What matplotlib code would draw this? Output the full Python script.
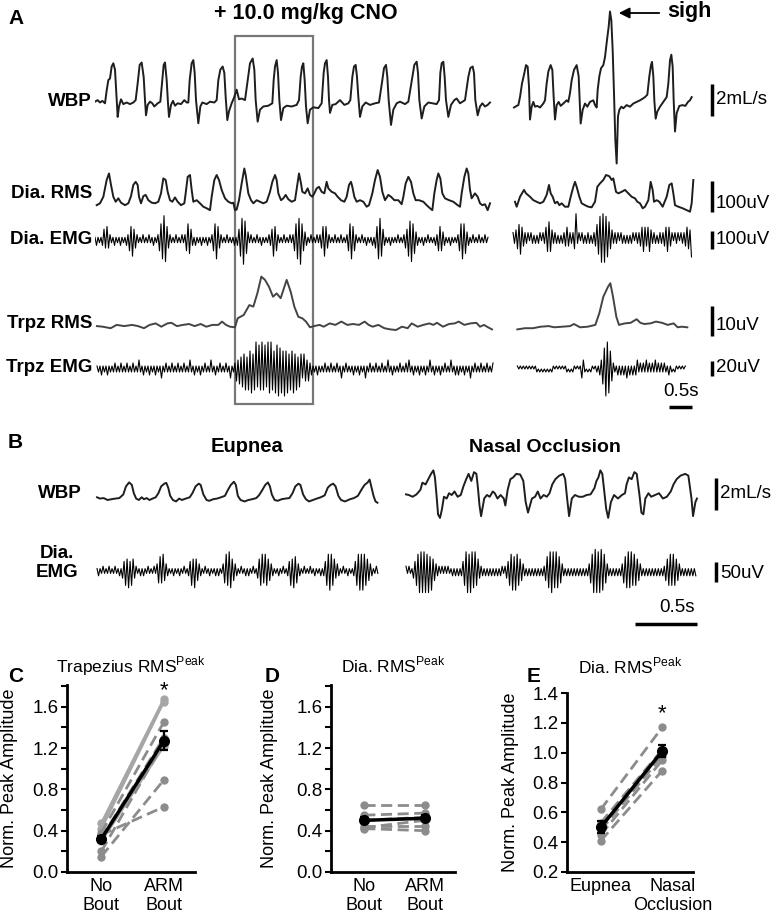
import numpy as np
import matplotlib
matplotlib.use('Agg')
import matplotlib.pyplot as plt
import matplotlib.transforms as mtransforms
from matplotlib.patches import Rectangle

plt.rcParams['font.family'] = ['Liberation Sans', 'DejaVu Sans']
plt.rcParams['mathtext.fontset'] = 'custom'
plt.rcParams['mathtext.rm'] = 'Liberation Sans'

# ------------------------------------------------------------------ DATA
# Panel A traces: (time in samples @ FS_A, value)
FS_A = 138.0
WBP_A_LEFT = [(0,0.1),(8,0.2),(15,0.05),(22,0.15),(30,0),(35,0.8),(40,1.45),(45,1.55),(50,2.3),(55,2.5),(60,2.1),(64,0.6),(68,-0.85),(72,-0.2),(78,0.25),(85,-0.05),(95,0.05),(105,-0.05),(115,0.05),(122,0.2),
(128,1.25),(134,2.4),(140,2.55),(146,1.65),(150,0.2),(153,-0.75),(158,-0.1),(165,0.1),(172,0),(178,-0.2),(188,0),(196,0.1),
(202,1.45),(206,2.4),(210,2.55),(215,1.45),(219,0),(222,-0.85),(228,-0.1),(234,0.15),(240,-0.15),(248,0),(258,-0.05),(268,0.2),(275,0.05),(280,0.05),
(284,1.45),(290,2.5),(295,2.7),(299,1.9),(303,0.2),(310,-1.25),(316,-0.2),(322,0.05),(335,-0.05),(345,0.1),(358,0.05),(365,0.2),
(370,1.45),(376,2.1),(383,2.3),(388,1.9),(392,0.4),(397,-1.05),(402,-0.5),(410,0),(418,0.4),(425,0.85),(432,0.25),(440,0.3),(450,0.2),
(458,1.45),(465,2.5),(473,2.8),(478,2.1),(482,0.2),(488,-1.15),(495,-0.4),(505,-0.2),(520,-0.15),(532,0),
(536,1.45),(540,2.3),(545,2.7),(549,1.9),(553,0.2),(558,-1.05),(565,-0.3),(575,-0.15),(590,-0.2),(605,-0.1),(612,0.2),
(617,1.65),(621,2.3),(625,2.5),(629,1.45),(633,-0.2),(638,-1.25),(645,-0.4),(655,-0.25),(670,-0.3),(680,0),
(686,1.9),(690,2.5),(695,2.7),(699,1.65),(702,0.2),(705,-0.6),(712,-0.1),(722,-0.05),(735,0.2),(748,-0.1),(760,0),(766,0.2),
(772,1.65),(777,2.3),(782,2.4),(786,1.65),(790,0.4),(795,-0.85),(802,-0.2),(812,0.05),(825,-0.1),(840,0),(852,0.05),
(862,1.45),(867,2.2),(873,2.4),(877,1.65),(881,0.2),(888,-1.35),(895,-0.4),(905,0),(915,0.1),(930,-0.05),(940,0.1),
(952,1.65),(958,2.4),(965,2.6),(969,1.9),(973,0.2),(980,-0.95),(988,-0.2),(1000,0.05),(1012,0),(1025,-0.05),(1032,0.2),
(1036,1.9),(1040,2.5),(1045,2.6),(1049,1.65),(1053,0.2),(1060,-0.85),(1068,-0.1),(1078,0.2),(1085,0.3),(1095,0),(1110,0.2),
(1120,1.65),(1126,2.2),(1133,2.3),(1137,1.9),(1141,0.2),(1148,-0.75),(1155,-0.2),(1162,0),(1170,-0.2),(1178,-0.1),(1185,0.05)]

WBP_A_RIGHT = [(42,-0.05),(50,0.05),(55,0.1),(60,0.6),(66,1.45),(72,2.0),(78,2.6),(83,2.5),(87,1.25),(90,-0.8),(95,0),(100,0.3),(105,0),(112,0.05),(120,-0.05),(130,0.2),(135,0.4),
(140,1.45),(145,2.2),(152,2.6),(157,2.3),(161,0.6),(165,-0.8),(170,0.1),(176,0.3),(182,0.05),(190,0.2),(200,0.4),(205,0.3),(210,0.85),
(215,1.65),(222,2.3),(230,2.6),(236,1.9),(239,0.4),(242,-1.05),(248,-0.2),(255,0.2),(262,0),(270,0.3),(280,0.4),(285,0.1),(290,-0.05),
(293,1.05),(298,1.9),(303,2.4),(310,2.6),(315,3.1),(320,4.0),(326,5.0),(330,5.95),(334,5.4),(338,3.55),(342,0.85),(346,-2.1),(350,-3.55),(354,-0.6),(358,-0.2),(364,0),(370,-0.1),(380,0.1),(390,0),(400,0.2),(410,0.3),(420,0.4),(428,0.5),(435,0.6),(442,0.75),
(448,1.9),(453,2.6),(456,2.8),(460,1.9),(463,0.4),(467,-0.75),(472,-0.3),(480,0),(490,0.3),(500,0.6),(505,1.45),(510,2.9),(514,3.25),(518,2.5),(521,0.4),(525,-1.55),(530,-0.4),(538,0.05),(548,0.1),(556,0.05),(564,0.3),(570,0.4),(575,0.6)]

DIA_RMS_A_LEFT = [(5,21),(15,27),(25,48),(35,102),(42,123),(48,86),(55,48),(62,32),(70,43),(78,29),(90,21),(100,27),
(108,50),(115,86),(122,96),(128,86),(132,48),(138,27),(145,50),(152,54),(160,37),(170,29),(180,27),(190,32),
(198,59),(205,107),(212,102),(218,64),(225,37),(232,32),(240,46),(248,32),(258,21),(268,27),
(272,59),(278,112),(285,118),(290,70),(295,32),(305,37),(315,27),(325,16),(335,11),(345,5),
(350,48),(358,102),(365,118),(372,102),(380,70),(390,43),(400,32),(410,27),(415,29),(420,5),
(425,7),(432,37),(440,91),(448,139),(452,118),(460,59),(468,37),(475,27),(485,37),(495,32),(505,27),(515,32),
(525,64),(532,96),(540,118),(545,102),(550,59),(558,37),(565,43),(572,54),(580,40),(590,32),(600,37),
(606,80),(612,123),(618,91),(622,64),(630,59),(638,75),(645,54),(652,48),
(658,59),(665,75),(672,80),(680,64),(688,59),(695,96),(700,75),(710,64),(720,59),(728,48),(738,37),(748,32),
(755,48),(762,86),(768,96),(772,80),(778,48),(785,32),(795,37),(805,32),(815,16),(822,21),
(832,59),(840,102),(848,134),(855,112),(862,64),(870,37),(880,54),(888,48),(898,37),(910,37),(920,24),
(925,48),(932,91),(940,112),(948,96),(955,59),(962,37),(972,37),(985,32),(995,21),(1005,11),(1012,5),
(1018,59),(1025,102),(1030,123),(1036,107),(1042,59),(1050,43),(1062,37),(1075,32),(1088,21),(1095,16),
(1100,59),(1108,112),(1115,139),(1120,123),(1125,70),(1130,43),(1140,59),(1148,48),(1155,27),(1162,21),(1170,24),(1178,5),(1185,27)]

DIA_RMS_A_RIGHT = [(45,32),(50,16),(60,48),(72,70),(78,59),(90,48),(100,37),(110,32),(120,27),(130,32),(140,54),(147,86),(152,59),(158,48),(165,27),(172,32),(178,21),(185,27),(195,16),(205,16),(212,48),(220,80),(225,96),(230,80),(238,48),(245,27),(255,21),(265,16),(275,14),(285,32),(292,80),(300,91),(310,102),(318,118),(328,114),(335,102),(340,107),(348,64),(355,59),(365,64),(375,70),(385,59),(395,48),(405,43),(412,32),(420,27),(428,11),(435,16),(445,37),(452,96),(458,70),(462,32),(470,37),(478,32),(488,16),(500,48),(508,86),(515,91),(520,59),(525,21),(535,16),(548,11),(560,5),(570,0),(575,27),(580,102)]

TRPZ_RMS_A_LEFT = [(6,1.3),(23,1.1),(47,0.6),(65,1.7),(88,1.3),(111,1.7),(129,1.3),(147,0.6),(164,1.7),(182,2.2),(199,1.1),(217,2.2),(229,2.4),(246,1.3),(264,1.7),(282,2.0),(299,1.3),(317,2.0),(334,1.1),(352,1.7),(370,1.7),(381,2.8),(393,1.7),(405,1.1),(420,0.9),(428,3.9),(446,5.0),(463,8.3),(475,7.8),(487,12.2),(499,17.8),(510,16.7),(522,14.4),(534,11.1),(545,12.2),(557,10.6),(575,16.7),(587,12.8),(598,7.8),(610,4.4),(622,3.9),(633,2.8),(645,0.9),(657,1.3),(674,1.7),(686,1.1),(704,2.2),(721,1.7),(739,2.8),(757,1.7),(774,2.0),(792,1.7),(809,2.8),(821,1.7),(833,1.1),(850,1.7),(868,0.6),(886,0.2),(903,0.0),(921,1.1),(938,0.6),(950,2.2),(968,1.1),(985,1.7),(1003,2.2),(1015,1.7),(1026,2.4),(1044,1.1),(1062,2.0),(1079,2.2),(1091,2.8),(1108,1.7),(1126,2.2),(1144,2.4),(1155,1.1),(1167,1.7),(1179,0.9),(1191,0.2)]

TRPZ_RMS_A_RIGHT = [(52,0.2),(75,0.6),(99,0.6),(122,1.1),(146,1.3),(163,0.9),(187,1.1),(210,1.3),(222,2.0),(240,0.9),(263,1.1),(286,1.7),(298,5.6),(310,11.1),(324,14.4),(331,15.6),(339,11.1),(349,4.4),(357,1.7),(374,2.2),(392,2.4),(410,3.6),(421,2.4),(433,2.0),(451,2.2),(468,2.8),(486,2.4),(503,1.7),(521,2.2),(533,0.9),(545,1.1),(562,0.9)]

# EMG traces: one digit = peak amplitude level of one half-cycle, EMG_STEP samples apart
EMG_STEP_A = 4.5
DIA_EMG_A_LEFT = ("1211124353" "2112111211" "1224564321" "1121112112" "1124679853" "2111211121"
                  "2465421211" "1211121124" "6753211121" "1112124689" "7531211121" "1211112246"
                  "5421112111" "2124678964" "3211211121" "2356532111" "2111211124" "6754211121"
                  "1211121357" "8642111211" "1121112346" "7865321112" "1121111224" "5432111211"
                  "1124676532" "1121112111211")
DIA_EMG_A_RIGHT = ("2234564322" "2122121221" "2245653222" "1212234322" "2492212212" "2212235689"
                   "9987643222" "2122121212" "2122234543" "4532221222" "2345432122" "2122234437")
TRPZ_EMG_A_LEFT = ("1112111211" "1121112111" "2111211131" "1211121112" "1113112111" "2111211121"
                   "1131121112" "1121113112" "1121112113" "1124354657" "4768579687" "9786989768"
                   "8978696857" "6857465354" "3422111211" "1121112111" "2113112111" "1211121113"
                   "1121112111" "2111311211" "1121112131" "1211121112" "1131121112" "1121113112"
                   "1211121113" "1121112111" "21112")
TRPZ_EMG_A_RIGHT = ("1010101010" "1011010101" "0101101010" "1011010110" "1013310101" "1011123579"
                    "9864211212" "1213121212" "3121213121" "2131212121" "1211011010" "101")
DIA_EMG_A_START = (0, 39)      # samples
TRPZ_EMG_A_START = (6, 52)
DIA_EMG_UNIT = 15.0   # uV per level
TRPZ_EMG_UNIT = 4.0

# Panel B traces
FS_B = 317.0
WBP_B_EUPNEA = [(18,0.17),(25,0.09),(35,0.12),(45,0),(55,0.05),(65,0.09),(75,0.12),(85,0.34),(92,0.85),(100,1.1),(107,0.94),(112,0.43),(118,0.09),(125,0),(132,0.17),(138,0.05),(145,0.12),(152,0),(160,0.09),(168,0.17),(175,0.43),(182,0.85),(190,1.02),(195,1.07),(200,0.77),(205,0.26),(212,0),(220,-0.09),(228,0.09),(235,0),(245,0.09),(255,0.17),(262,0.43),(270,0.85),(278,1.02),(283,0.94),(290,0.34),(298,0),(305,-0.05),(315,0.05),(325,0.09),(335,0.17),(345,0.26),(352,0.6),(360,0.94),(368,1.14),(373,0.94),(378,0.26),(385,0),(395,-0.09),(405,0),(415,0.05),(425,0.12),(432,0.29),(440,0.6),(448,0.94),(455,1.1),(460,0.85),(465,0.34),(472,0),(480,-0.05),(490,0.05),(500,0.09),(510,0.12),(518,0.43),(525,0.85),(533,1.02),(538,0.94),(545,0.34),(552,0.05),(560,-0.09),(570,0),(580,0.09),(590,0.17),(600,0.29),(608,0.77),(615,0.94),(622,1.02),(628,0.85),(635,0.26),(642,0),(652,-0.09),(665,0.05),(675,0.12),(685,0.26),(695,0.68),(702,0.94),(710,1.1),(715,1.28),(720,0.77),(725,0.26),(730,-0.09),(735,-0.17)]

WBP_B_OCCLUSION = [(808,0.04),(815,0),(825,-0.11),(835,0.04),(845,0.33),(850,0.77),(858,0.66),(865,0.99),(872,1.32),(878,1.54),(882,1.1),(886,0),(890,-1.21),(895,-1.43),(900,-0.88),(905,-0.11),(912,-0.22),(918,0.11),(925,0),(932,0.22),(940,-0.11),(948,0),(955,0.55),(962,0.99),(968,1.32),(975,0.88),(982,1.43),(988,1.32),(992,0.44),(996,-0.66),(1000,-1.32),(1008,-0.22),(1015,0),(1022,-0.11),(1030,0.22),(1035,0.11),(1042,-0.22),(1050,0),(1058,-0.22),(1062,-0.66),(1068,0.33),(1075,0.99),(1082,1.1),(1090,1.32),(1100,1.28),(1108,0.88),(1114,-0.44),(1120,-1.1),(1125,-0.66),(1130,-0.22),(1138,-0.11),(1145,0.22),(1152,-0.22),(1160,0),(1168,-0.11),(1175,0.11),(1182,0.66),(1190,0.99),(1200,1.21),(1210,1.32),(1215,0.99),(1220,-0.22),(1225,-1.32),(1232,-0.22),(1240,0),(1250,-0.11),(1260,-0.11),(1270,0),(1280,0.04),(1290,0.44),(1295,0.88),(1300,1.1),(1305,1.54),(1310,1.32),(1315,0.22),(1320,-0.88),(1325,-1.43),(1332,-0.44),(1340,0),(1350,-0.22),(1360,0),(1368,0.11),(1372,0.66),(1378,1.1),(1385,0.99),(1392,1.43),(1398,1.32),(1405,0),(1410,-1.1),(1415,-1.21),(1420,-0.22),(1428,0.11),(1435,-0.11),(1445,0),(1455,0.11),(1465,-0.22),(1475,-0.11),(1485,0.22),(1492,0.66),(1500,0.99),(1510,1.21),(1522,1.32),(1530,1.21),(1538,-0.22),(1542,-1.32),(1548,-0.44),(1552,-0.22)]

EMG_STEP_B = 3.84
DIA_EMG_B_EUPNEA = ("1211211121" "1121121346" "5746532112" "1211211121" "3565743211" "1211121121"
                    "1246575432" "1121121112" "1211357687" "5432112112" "1211211356" "7576543211"
                    "1211211246" "5765321121" "1121121112" "1246787653" "3211211211" "1246787876"
                    "54321121")
DIA_EMG_B_OCCLUSION = ("2121134679" "8989796854" "3221212121" "1212121246" "8979878653" "2212121212"
                       "1212212346" "7868765432" "1212121212" "1224678987" "8765321212" "1212121212"
                       "1235799989" "9875321212" "1212356787" "8676543212" "1212121212" "1224567676"
                       "5432121212" "1212")
DIA_EMG_B_START = (18, 808)
DIA_EMG_B_UNIT = 6.0

# Panels C-E
C_CATS = ['No\nBout', 'ARM\nBout']
C_NO_BOUT = [0.47, 0.42, 0.38, 0.33, 0.30, 0.20, 0.15, 0.36]
C_ARM_BOUT = [1.67, 1.65, 1.45, 1.30, 1.22, 1.25, 0.89, 0.63]
C_MEAN = [0.32, 1.27]
C_SEM = [0.03, 0.09]

D_CATS = ['No\nBout', 'ARM\nBout']
D_NO_BOUT = [0.65, 0.55, 0.50, 0.45, 0.42, 0.43]
D_ARM_BOUT = [0.65, 0.57, 0.53, 0.45, 0.40, 0.50]
D_MEAN = [0.50, 0.52]
D_SEM = [0.03, 0.03]

E_CATS = ['Eupnea', 'Nasal\nOcclusion']
E_EUPNEA = [0.62, 0.53, 0.48, 0.45, 0.41]
E_NASAL = [1.17, 1.02, 0.98, 0.95, 0.88]
E_MEAN = [0.50, 1.01]
E_SEM = [0.04, 0.04]

# ------------------------------------------------------------------ FIGURE
W, H = 777, 918
fig = plt.figure(figsize=(W / 100, H / 100), dpi=100)
ov = fig.add_axes([0, 0, 1, 1])
ov.set_xlim(0, W); ov.set_ylim(H, 0); ov.axis('off')

def trace_ax(x0, x1, zero_y, pps, ppu, half=120):
    ax = fig.add_axes([x0 / W, 1 - (zero_y + half) / H, (x1 - x0) / W, 2 * half / H])
    ax.set_xlim(0, (x1 - x0) / pps)
    ax.set_ylim(-half / ppu, half / ppu)
    ax.axis('off')
    ax.patch.set_visible(False)
    return ax

def pairs(lst, fs):
    a = np.array(lst, dtype=float)
    return a[:, 0] / fs, a[:, 1]

def emg(levels, start, step, fs, unit):
    lv = np.array([int(c) for c in levels], dtype=float) * unit
    sign = np.where(np.arange(len(lv)) % 2 == 0, 1.0, -1.0)
    t = (start + np.arange(len(lv)) * step) / fs
    return t, lv * sign

TRACE = '#1e1e1e'
PPS_A = FS_A / 3.0      # pixels per second in panel A
PPS_B = FS_B / 2.557

# --- Panel A
L0, L1, R0, R1 = 95, 495, 500, 700
ax = trace_ax(L0, L1, 103.3, PPS_A, 16)
ax.plot(*pairs(WBP_A_LEFT, FS_A), color=TRACE, lw=1.4)
ax = trace_ax(R0, R1, 106.7, PPS_A, 16)
ax.plot(*pairs(WBP_A_RIGHT, FS_A), color=TRACE, lw=1.4)

ax = trace_ax(L0, L1, 211.7, PPS_A, 0.311)
ax.plot(*pairs(DIA_RMS_A_LEFT, FS_A), color=TRACE, lw=1.4)
ax = trace_ax(R0, R1, 211.7, PPS_A, 0.311)
ax.plot(*pairs(DIA_RMS_A_RIGHT, FS_A), color=TRACE, lw=1.4)

ax = trace_ax(L0, L1, 240, PPS_A, 0.18)
ax.plot(*emg(DIA_EMG_A_LEFT, DIA_EMG_A_START[0], EMG_STEP_A, FS_A, DIA_EMG_UNIT), color='k', lw=0.8)
ax = trace_ax(R0, R1, 238, PPS_A, 0.18)
ax.plot(*emg(DIA_EMG_A_RIGHT, DIA_EMG_A_START[1], EMG_STEP_A, FS_A, DIA_EMG_UNIT), color='k', lw=0.8)

ax = trace_ax(L0, L1, 330, PPS_A, 3.0)
ax.plot(*pairs(TRPZ_RMS_A_LEFT, FS_A), color='#444444', lw=1.4)
ax = trace_ax(R0, R1, 330, PPS_A, 3.0)
ax.plot(*pairs(TRPZ_RMS_A_RIGHT, FS_A), color='#444444', lw=1.4)

ax = trace_ax(L0, L1, 369, PPS_A, 0.75)
ax.plot(*emg(TRPZ_EMG_A_LEFT, TRPZ_EMG_A_START[0], EMG_STEP_A, FS_A, TRPZ_EMG_UNIT), color='k', lw=0.8)
ax = trace_ax(R0, R1, 369, PPS_A, 0.75)
ax.plot(*emg(TRPZ_EMG_A_RIGHT, TRPZ_EMG_A_START[1], EMG_STEP_A, FS_A, TRPZ_EMG_UNIT), color='k', lw=0.8)

ov.add_patch(Rectangle((235, 36), 78, 368, fill=False, ec='#777777', lw=1.6))

lab = dict(fontsize=13.5, fontweight='bold', ha='right', va='center')
ov.text(8, 18, 'A', fontsize=15, fontweight='bold', va='center')
ov.text(306, 13, '+ 10.0 mg/kg CNO', fontsize=15.5, fontweight='bold', ha='center', va='center')
ov.annotate('', xy=(616, 13), xytext=(662, 13),
            arrowprops=dict(arrowstyle='-|>', color='k', lw=1.3, mutation_scale=16))
ov.text(667, 12, 'sigh', fontsize=15.5, fontweight='bold', va='center')
ov.text(92, 101, 'WBP', **lab)
ov.text(92, 194, 'Dia. RMS', **lab)
ov.text(92, 240, 'Dia. EMG', **lab)
ov.text(92, 323, 'Trpz RMS', **lab)
ov.text(92, 368, 'Trpz EMG', **lab)

def vbar(x, y_bottom, length, text, ty):
    ov.plot([x, x], [y_bottom, y_bottom - length], color='k', lw=2.5, solid_capstyle='butt')
    ov.text(x + 4, ty, text, fontsize=13.5, va='center')

vbar(712, 116, 2 * 16, '2mL/s', 100)
vbar(712, 212, 100 * 0.311, '100uV', 203)
vbar(712, 249, 100 * 0.18, '100uV', 240)
vbar(712, 336, 10 * 3.0, '10uV', 326)
vbar(712, 376, 20 * 0.75, '20uV', 368)
ov.plot([692 - 0.5 * PPS_A, 692], [407, 407], color='k', lw=2.5, solid_capstyle='butt')
ov.text(681, 391, '0.5s', fontsize=13.5, ha='center', va='center')

# --- Panel B
ax = trace_ax(90, 705, 500, PPS_B, 16)
ax.plot(*pairs(WBP_B_EUPNEA, FS_B), color=TRACE, lw=1.4)
ax = trace_ax(90, 705, 495, PPS_B, 16)
ax.plot(*pairs(WBP_B_OCCLUSION, FS_B), color=TRACE, lw=1.4)
ax = trace_ax(90, 705, 571, PPS_B, 0.4)
ax.plot(*emg(DIA_EMG_B_EUPNEA, DIA_EMG_B_START[0], EMG_STEP_B, FS_B, DIA_EMG_B_UNIT), color='k', lw=0.8)
ax.plot(*emg(DIA_EMG_B_OCCLUSION, DIA_EMG_B_START[1], EMG_STEP_B, FS_B, DIA_EMG_B_UNIT), color='k', lw=0.8)

ov.text(8, 443, 'B', fontsize=15, fontweight='bold', va='center')
ov.text(247, 447, 'Eupnea', fontsize=14.5, fontweight='bold', ha='center', va='center')
ov.text(545, 447, 'Nasal Occlusion', fontsize=14, fontweight='bold', ha='center', va='center')
ov.text(82, 493, 'WBP', **lab)
ov.text(57, 563, 'Dia.\nEMG', fontsize=13.5, fontweight='bold', ha='center', va='center', linespacing=1.15)
vbar(716, 510, 2 * 16, '2mL/s', 494)
vbar(716, 582, 50 * 0.4, '50uV', 573)
ov.plot([697 - 0.5 * PPS_B, 697], [624, 624], color='k', lw=2.5, solid_capstyle='butt')
ov.text(677, 607, '0.5s', fontsize=13.5, ha='center', va='center')

# --- Panels C-E
def px_axes(l, t, r, b):
    return fig.add_axes([l / W, 1 - b / H, (r - l) / W, (b - t) / H])

def stat_panel(rect, cats, a, b, mean, sem, ylim, major, minor, title, ylab_x, styles, tpad):
    ax = px_axes(*rect)
    for i, (ya, yb) in enumerate(zip(a, b)):
        st = styles[i % len(styles)]
        ax.plot([0, 1], [ya, yb], color=st[0], ls=st[1], lw=2, marker='o', ms=5,
                mec=st[0], mfc=st[0], dashes=st[2] if st[1] == '--' else (None, None), zorder=2)
    ax.errorbar([0, 1], mean, yerr=sem, color='k', lw=2.5, marker='o', ms=7,
                capsize=3, elinewidth=1.6, capthick=1.6, zorder=5)
    ax.set_ylim(*ylim)
    ax.set_xlim(-0.55, 1.5)
    ax.set_yticks(major)
    ax.set_yticks(minor, minor=True)
    ax.set_yticklabels([f'{v:.1f}' for v in major])
    ax.set_xticks([0, 1])
    ax.set_xticklabels(cats, fontsize=13, linespacing=1.2)
    for s in ['top', 'right']:
        ax.spines[s].set_visible(False)
    for s in ['left', 'bottom']:
        ax.spines[s].set_linewidth(2)
    ax.tick_params(axis='y', which='both', length=4, width=1.5, labelsize=13.5, pad=2)
    ax.tick_params(axis='x', length=0, pad=4)
    ax.set_title(title, fontsize=12.5, pad=tpad)
    ax.set_ylabel('Norm. Peak Amplitude', fontsize=13)
    ax.yaxis.set_label_coords(ylab_x, 0.5)
    ax.patch.set_visible(False)
    return ax

styles_c = [('#a6a6a6', '-', None), ('#a6a6a6', '-', None), ('#8c8c8c', '--', (4, 2)),
            ('#8c8c8c', '--', (4, 2)), ('#a6a6a6', '-', None), ('#8c8c8c', '--', (4, 2)),
            ('#8c8c8c', '--', (4, 2)), ('#8c8c8c', '--', (4, 2))]
styles_d = [('#8c8c8c', '--', (4, 2))]

ax = stat_panel((67, 685, 195, 872), C_CATS, C_NO_BOUT, C_ARM_BOUT, C_MEAN, C_SEM,
                (0, 1.81), np.arange(0, 1.61, 0.4), np.arange(0.2, 1.81, 0.4),
                'Trapezius RMS$^{\\mathrm{Peak}}$', -0.385, styles_c, 9)
ax.text(1, 1.755, '*', fontsize=16, ha='center', va='center', clip_on=False)
ov.text(8, 677, 'C', fontsize=15, fontweight='bold', va='center')

ax = stat_panel((331, 685, 455, 872), D_CATS, D_NO_BOUT, D_ARM_BOUT, D_MEAN, D_SEM,
                (0, 1.81), np.arange(0, 1.61, 0.4), np.arange(0.2, 1.81, 0.4),
                'Dia. RMS$^{\\mathrm{Peak}}$', -0.43, styles_d, 9)
ov.text(265, 677, 'D', fontsize=15, fontweight='bold', va='center')

ax = stat_panel((567, 693, 693, 872), E_CATS, E_EUPNEA, E_NASAL, E_MEAN, E_SEM,
                (0.2, 1.4), np.arange(0.2, 1.41, 0.2), [],
                'Dia. RMS$^{\\mathrm{Peak}}$', -0.38, styles_d, 14)
ax.text(1, 1.26, '*', fontsize=16, ha='center', va='center', clip_on=False)
# shift the second category label to the right as in the reference
shift = mtransforms.ScaledTranslation(10 / 100, 0, fig.dpi_scale_trans)
lbl = ax.get_xticklabels()[1]
lbl.set_transform(lbl.get_transform() + shift)
ov.text(527, 677, 'E', fontsize=15, fontweight='bold', va='center')

fig.savefig('out.png', dpi=100)
